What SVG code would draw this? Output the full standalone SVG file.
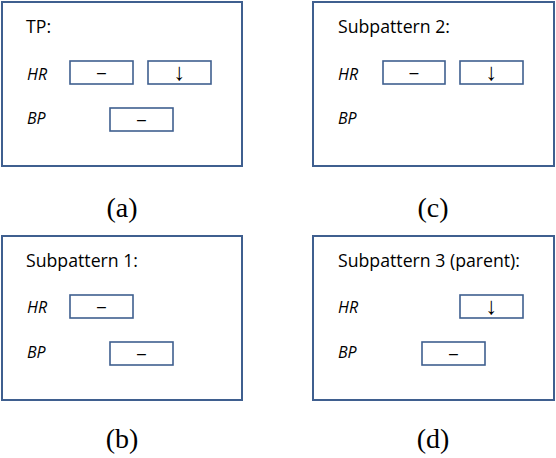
<svg xmlns="http://www.w3.org/2000/svg" width="556" height="458" viewBox="0 0 556 458">
<style>
.panel{fill:#fff;stroke:#3F5F8F;stroke-width:2}
.box{fill:#fff;stroke:#3F5F8F;stroke-width:1.6}
.title{font-family:"Open Sans",sans-serif;font-size:17.7px;fill:#000}
.lab{font-family:"Open Sans",sans-serif;font-size:16px;font-style:italic;fill:#000}
.sym{font-family:"Liberation Sans",sans-serif;font-size:16px;fill:#000;text-anchor:middle}
.arr{font-family:"Liberation Sans",sans-serif;font-size:24px;fill:#000;text-anchor:middle}
.cap{font-family:"Liberation Serif",serif;font-size:28px;fill:#000;text-anchor:middle}
</style>
<rect width="556" height="458" fill="#fff"/>
<g id="panel-a">
<rect class="panel" x="2" y="2" width="240" height="164"/>
<text class="title" x="26" y="33">TP:</text>
<text class="lab" x="27" y="80">HR</text>
<text class="lab" x="27" y="124">BP</text>
<rect class="box" x="70" y="61" width="63" height="23"/>
<text class="sym" x="101.5" y="78">–</text>
<rect class="box" x="148" y="61" width="63" height="23"/>
<text class="arr" x="179.5" y="80">↓</text>
<rect class="box" x="110" y="108" width="63" height="23"/>
<text class="sym" x="141.5" y="125">–</text>
<text class="cap" x="122" y="217">(a)</text>
</g>
<g id="panel-c">
<rect class="panel" x="313" y="2" width="241" height="164"/>
<text class="title" x="338" y="33">Subpattern 2:</text>
<text class="lab" x="338" y="80">HR</text>
<text class="lab" x="338" y="124">BP</text>
<rect class="box" x="383" y="61" width="62" height="23"/>
<text class="sym" x="414" y="78">–</text>
<rect class="box" x="460" y="61" width="63" height="23"/>
<text class="arr" x="491.5" y="80">↓</text>
<text class="cap" x="433" y="217">(c)</text>
</g>
<g id="panel-b">
<rect class="panel" x="2" y="236" width="240" height="164"/>
<text class="title" x="26" y="267">Subpattern 1:</text>
<text class="lab" x="27" y="313">HR</text>
<text class="lab" x="27" y="358">BP</text>
<rect class="box" x="70" y="295" width="63" height="23"/>
<text class="sym" x="101.5" y="312">–</text>
<rect class="box" x="110" y="342" width="63" height="23"/>
<text class="sym" x="141.5" y="359">–</text>
<text class="cap" x="122" y="448">(b)</text>
</g>
<g id="panel-d">
<rect class="panel" x="313" y="236" width="241" height="164"/>
<text class="title" x="338" y="267">Subpattern 3 (parent):</text>
<text class="lab" x="338" y="313">HR</text>
<text class="lab" x="338" y="358">BP</text>
<rect class="box" x="460" y="295" width="63" height="23"/>
<text class="arr" x="491.5" y="314">↓</text>
<rect class="box" x="422" y="342" width="63" height="23"/>
<text class="sym" x="453.5" y="359">–</text>
<text class="cap" x="433" y="448">(d)</text>
</g>
<g id="connectors"></g>
</svg>
